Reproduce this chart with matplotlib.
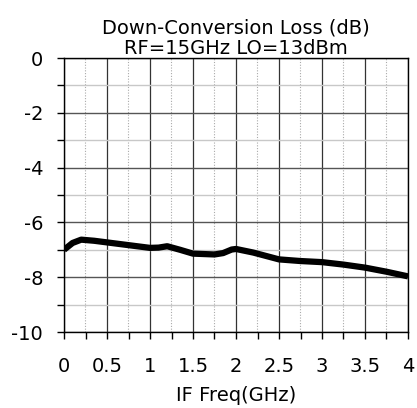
import numpy as np
import matplotlib
matplotlib.use('Agg')
import matplotlib.pyplot as plt
from matplotlib.ticker import MultipleLocator

freq = [0.0, 0.1, 0.2, 0.35, 0.5, 0.75, 1.0, 1.1, 1.2, 1.35, 1.5, 1.75, 1.85, 1.95, 2.0, 2.2, 2.5, 2.75, 3.0, 3.25, 3.5, 3.75, 4.0]
loss = [-7.0, -6.75, -6.63, -6.67, -6.73, -6.83, -6.93, -6.92, -6.87, -7.0, -7.14, -7.17, -7.12, -6.99, -6.97, -7.1, -7.35, -7.41, -7.45, -7.54, -7.65, -7.8, -7.97]

xticks = [0, 0.5, 1, 1.5, 2, 2.5, 3, 3.5, 4]
xticklabels = ['0', '0.5', '1', '1.5', '2', '2.5', '3', '3.5', '4']
yticks = [0, -2, -4, -6, -8, -10]
yticklabels = ['0', '-2', '-4', '-6', '-8', '-10']

title = 'Down-Conversion Loss (dB)\nRF=15GHz LO=13dBm'
xlabel = 'IF Freq(GHz)'

plt.rcParams['font.family'] = ['DejaVu Sans']
fs = 14

fig = plt.figure(figsize=(4.17, 4.08), dpi=100)
ax = fig.add_axes([64/417, 1 - 332/408, 344/417, 274/408])

ax.plot(freq, loss, color='black', lw=4.5, solid_capstyle='butt', zorder=3)

ax.set_xlim(0, 4)
ax.set_ylim(-10, 0)
ax.set_xticks(xticks)
ax.set_xticklabels(xticklabels)
ax.set_yticks(yticks)
ax.set_yticklabels(yticklabels)
ax.xaxis.set_minor_locator(MultipleLocator(0.25))
ax.yaxis.set_minor_locator(MultipleLocator(1))

ax.grid(which='major', axis='x', color='#333333', lw=0.9)
ax.grid(which='minor', axis='x', color='#aaaaaa', lw=0.8, ls=(0, (1, 1.5)))
ax.grid(which='major', axis='y', color='#555555', lw=1.0)
ax.grid(which='minor', axis='y', color='#c8c8c8', lw=1.0)
ax.set_axisbelow(True)

ax.tick_params(which='both', direction='out', length=5, width=1, colors='black', labelsize=fs)
ax.tick_params(axis='y', which='both', pad=10)
ax.tick_params(axis='x', which='both', pad=13)
for s in ax.spines.values():
    s.set_linewidth(1.0)
    s.set_color('black')

ax.set_xlabel(xlabel, fontsize=fs, labelpad=7)
ax.set_title(title, fontsize=fs, pad=3, linespacing=1.12)

fig.savefig('out.png', dpi=100)
